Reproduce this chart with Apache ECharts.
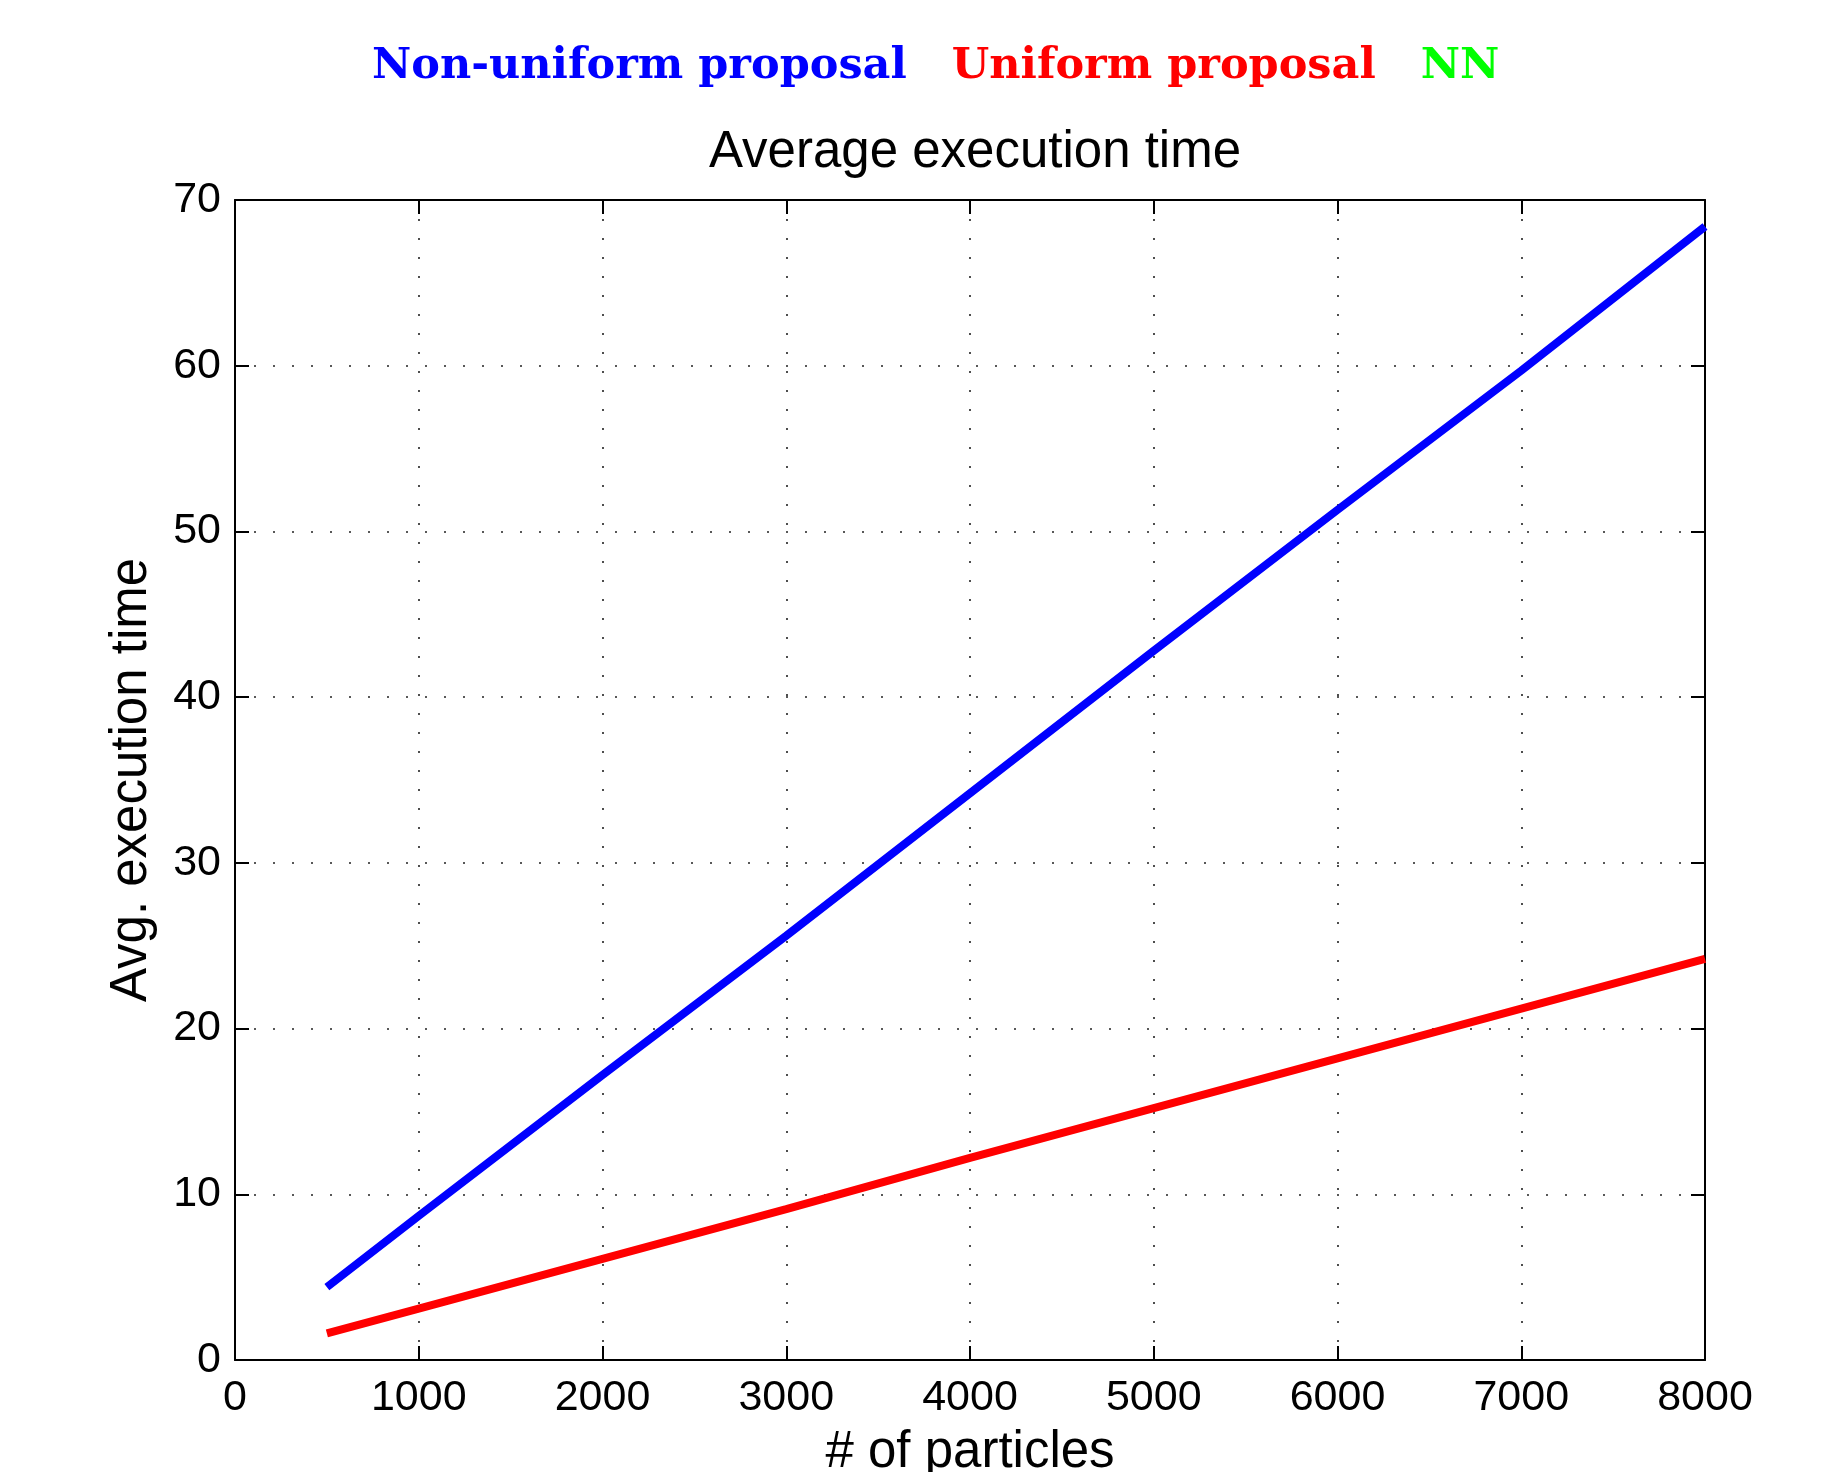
<!DOCTYPE html>
<html>
<head>
<meta charset="utf-8">
<title>Average execution time</title>
<script src="https://cdn.jsdelivr.net/npm/echarts@6/dist/echarts.min.js"></script>
<style>
  html, body { margin: 0; padding: 0; background: #fff; }
  #chart { width: 1827px; height: 1472px; }
</style>
</head>
<body>
<div id="chart"></div>
<script>
// Number of particles
const particles = [500, 1000, 2000, 3000, 4000, 5000, 6000, 7000, 8000];
// Average execution time per method
const nonUniformProposal = [4.4, 8.7, 17.2, 25.6, 34.2, 42.8, 51.3, 59.7, 68.4];
const uniformProposal = [1.6, 3.1, 6.1, 9.1, 12.2, 15.2, 18.2, 21.2, 24.2];
const nnTime = [];

const seriesNames = ['Non-uniform proposal', 'Uniform proposal', 'NN'];
const seriesColors = ['#0000ff', '#ff0000', '#00ff00'];

const xTicks = { min: 0, max: 8000, interval: 1000 };
const yTicks = { min: 0, max: 70, interval: 10 };

const sansFont = '"Liberation Sans", Arial, Helvetica, sans-serif';

function pairs(xs, ys) {
  return ys.map((y, i) => [xs[i], y]);
}

const tickStyle = { show: true, inside: true, length: 14, lineStyle: { color: '#000', width: 2 } };
const axisLineStyle = { show: true, onZero: false, lineStyle: { color: '#000', width: 2 } };
const gridDots = { show: true, lineStyle: { color: '#222', width: 1.6, type: [2, 17] } };

const chart = echarts.init(document.getElementById('chart'), null, { renderer: 'canvas' });

chart.setOption({
  backgroundColor: '#ffffff',
  animation: false,
  title: {
    text: 'Average execution time',
    left: 970,
    textAlign: 'center',
    top: 122,
    textStyle: { fontFamily: sansFont, fontSize: 51, fontWeight: 'normal', color: '#000' }
  },
  legend: {
    left: 362,
    top: 40,
    itemWidth: 0,
    itemHeight: 0,
    itemGap: 40,
    selectedMode: false,
    data: seriesNames.map((n, i) => ({
      name: n,
      icon: 'none',
      textStyle: { color: seriesColors[i] }
    })),
    textStyle: { fontFamily: '"DejaVu Serif", serif', fontWeight: 'bold', fontSize: 43 }
  },
  grid: { left: 235, right: 122, top: 200, bottom: 112, containLabel: false, outerBoundsMode: 'none' },
  xAxis: [
    {
      type: 'value',
      position: 'bottom',
      min: xTicks.min, max: xTicks.max, interval: xTicks.interval,
      name: '# of particles',
      nameLocation: 'middle',
      nameGap: 67,
      nameTextStyle: { fontFamily: sansFont, fontSize: 51, color: '#000' },
      axisLine: axisLineStyle,
      axisTick: tickStyle,
      axisLabel: { fontFamily: sansFont, fontSize: 43, color: '#000', margin: 17, formatter: v => String(v) },
      splitLine: gridDots
    },
    {
      type: 'value',
      position: 'top',
      min: xTicks.min, max: xTicks.max, interval: xTicks.interval,
      axisLine: axisLineStyle,
      axisTick: tickStyle,
      axisLabel: { show: false },
      splitLine: { show: false }
    }
  ],
  yAxis: [
    {
      type: 'value',
      position: 'left',
      min: yTicks.min, max: yTicks.max, interval: yTicks.interval,
      name: 'Avg. execution time',
      nameLocation: 'middle',
      nameGap: 78,
      nameTextStyle: { fontFamily: sansFont, fontSize: 51, color: '#000' },
      axisLine: axisLineStyle,
      axisTick: tickStyle,
      axisLabel: { fontFamily: sansFont, fontSize: 43, color: '#000', margin: 14, formatter: v => String(v) },
      splitLine: gridDots
    },
    {
      type: 'value',
      position: 'right',
      min: yTicks.min, max: yTicks.max, interval: yTicks.interval,
      axisLine: axisLineStyle,
      axisTick: tickStyle,
      axisLabel: { show: false },
      splitLine: { show: false }
    }
  ],
  series: [
    {
      name: seriesNames[0],
      type: 'line',
      showSymbol: false,
      color: seriesColors[0],
      lineStyle: { width: 8, color: seriesColors[0], cap: 'butt' },
      data: pairs(particles, nonUniformProposal)
    },
    {
      name: seriesNames[1],
      type: 'line',
      showSymbol: false,
      color: seriesColors[1],
      lineStyle: { width: 8, color: seriesColors[1], cap: 'butt' },
      data: pairs(particles, uniformProposal)
    },
    {
      name: seriesNames[2],
      type: 'line',
      showSymbol: false,
      color: seriesColors[2],
      lineStyle: { width: 8, color: seriesColors[2] },
      data: nnTime
    }
  ]
});
</script>
</body>
</html>
